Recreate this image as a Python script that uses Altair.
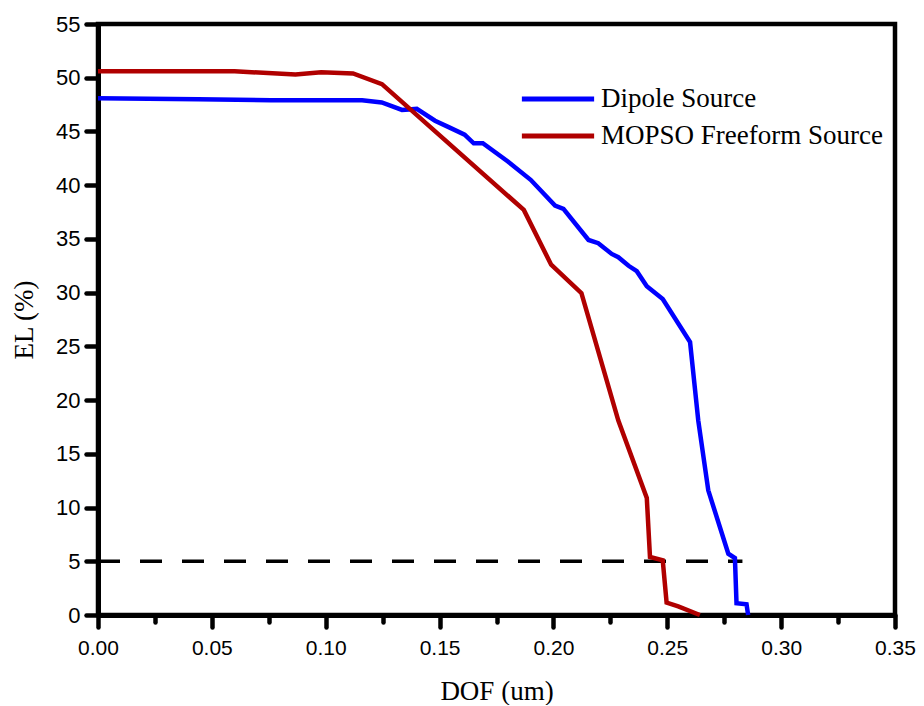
import altair as alt
import pandas as pd

# ---- data ----
dipole_dof = [0.0, 0.044, 0.076, 0.116, 0.1246, 0.1335, 0.140, 0.148, 0.154, 0.161, 0.165,
              0.169, 0.180, 0.190, 0.2007, 0.2044, 0.2154, 0.2197, 0.2256, 0.2285, 0.233,
              0.2366, 0.241, 0.248, 0.260, 0.2636, 0.268, 0.2768, 0.2797, 0.2804, 0.2848, 0.2855]
dipole_el = [48.1, 48.0, 47.9, 47.9, 47.7, 47.0, 47.1, 46.0, 45.4, 44.7, 43.9,
             43.9, 42.2, 40.5, 38.1, 37.8, 34.9, 34.6, 33.6, 33.3, 32.5,
             32.0, 30.6, 29.4, 25.4, 18.1, 11.6, 5.7, 5.3, 1.1, 1.0, 0.0]

mopso_dof = [0.0, 0.060, 0.0867, 0.098, 0.112, 0.1247, 0.187, 0.199, 0.2123, 0.2285,
             0.241, 0.2424, 0.248, 0.2497, 0.2548, 0.2643]
mopso_el = [50.6, 50.6, 50.3, 50.5, 50.4, 49.4, 37.7, 32.6, 29.95, 18.1,
            10.9, 5.4, 5.1, 1.15, 0.8, 0.0]

threshold_dof = [0.0, 0.283]
threshold_el = [5.0, 5.0]

series_names = ["Dipole Source", "MOPSO Freeform Source"]
series_colors = ["#0000ff", "#b00000"]

x_ticks = [0.0, 0.025, 0.05, 0.075, 0.10, 0.125, 0.15, 0.175, 0.20, 0.225, 0.25, 0.275, 0.30, 0.325, 0.35]
y_ticks = [0, 2.5, 5, 7.5, 10, 12.5, 15, 17.5, 20, 22.5, 25, 27.5, 30, 32.5, 35, 37.5, 40, 42.5,
           45, 47.5, 50, 52.5, 55]

rows = []
for i, (x, y) in enumerate(zip(dipole_dof, dipole_el)):
    rows.append({"dof": x, "el": y, "series": series_names[0], "order": i})
for i, (x, y) in enumerate(zip(mopso_dof, mopso_el)):
    rows.append({"dof": x, "el": y, "series": series_names[1], "order": i})
df = pd.DataFrame(rows)
df_th = pd.DataFrame({"dof": threshold_dof, "el": threshold_el})

x_scale = alt.Scale(domain=[0, 0.35], nice=False, zero=False)
y_scale = alt.Scale(domain=[0, 55], nice=False)

x_axis = alt.Axis(
    values=x_ticks,
    labelExpr="abs(round(datum.value*40)) % 2 == 0 ? format(datum.value, '.2f') : ''",
    tickSize={"condition": {"test": "abs(round(datum.value*40)) % 2 == 0", "value": 12}, "value": 7},
    tickWidth=4.5, tickColor="black", tickCap="round", domainWidth=5, domainColor="black",
    labelFont="Liberation Sans", labelFontSize=21, labelColor="black",
    labelPadding=10,
    labelOverlap=False, labelFlush=False, labelBound=False, grid=False,
    title="DOF (um)", titleFont="Liberation Serif", titleFontSize=27, titleFontWeight="normal",
    titleColor="black", titleBaseline="alphabetic", titleY=84,
)
y_axis = alt.Axis(
    values=y_ticks,
    labelExpr="abs(round(datum.value/2.5)) % 2 == 0 ? format(datum.value, 'd') : ''",
    tickSize={"condition": {"test": "abs(round(datum.value/2.5)) % 2 == 0", "value": 12}, "value": 7},
    tickWidth=4.5, tickColor="black", tickCap="round", domainWidth=5, domainColor="black",
    labelFont="Liberation Sans", labelFontSize=22, labelColor="black", labelPadding=6,
    labelOverlap=False, labelFlush=False, labelBound=False, grid=False,
    title="EL (%)", titleFont="Liberation Serif", titleFontSize=27, titleFontWeight="normal",
    titleColor="black", titleAngle=-90, titleBaseline="middle", titleX=-74,
)

lines = alt.Chart(df).mark_line(strokeWidth=4.5).encode(
    x=alt.X("dof:Q", scale=x_scale, axis=x_axis),
    y=alt.Y("el:Q", scale=y_scale, axis=y_axis),
    order="order:Q",
    color=alt.Color(
        "series:N",
        scale=alt.Scale(domain=series_names, range=series_colors),
        legend=alt.Legend(
            title=None, orient="none", legendX=445, legendY=60, padding=0,
            symbolType="M-3,0H3", symbolSize=580, symbolStrokeWidth=5,
            labelFont="Liberation Serif", labelFontSize=27, labelColor="black",
            labelOffset=28, rowPadding=9, labelLimit=500,
        ),
    ),
)

dashed = alt.Chart(df_th).mark_line(strokeWidth=3.5, strokeDash=[22, 20], color="black").encode(
    x=alt.X("dof:Q", scale=x_scale),
    y=alt.Y("el:Q", scale=y_scale),
)

chart = (
    alt.layer(dashed, lines)
    .properties(
        width=797, height=591,
        autosize=alt.AutoSizeParams(type="none"),
        padding={"left": 90, "top": 16, "right": 21, "bottom": 90},
        background="white",
    )
    .configure_view(stroke="black", strokeWidth=4.5)
)

chart.save("out.html", embed_options={"renderer": "svg", "actions": False})
